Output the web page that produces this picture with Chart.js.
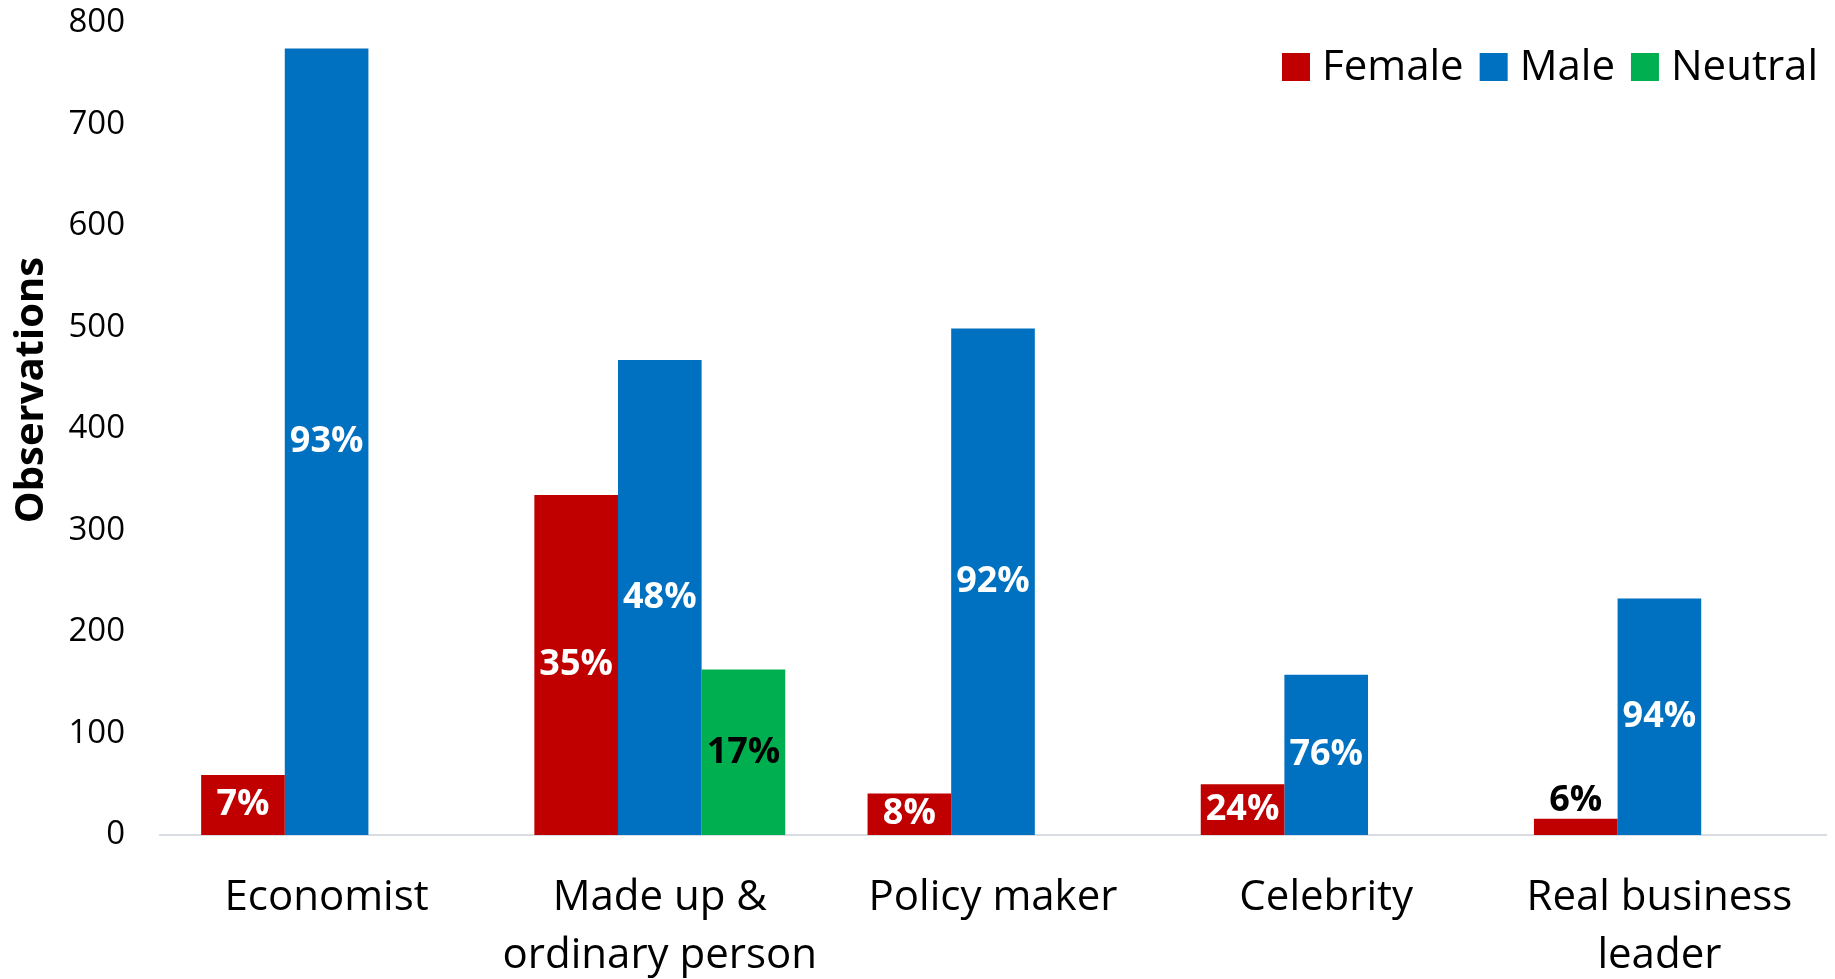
<!DOCTYPE html>
<html>
<head>
<meta charset="utf-8">
<script src="https://cdn.jsdelivr.net/npm/chart.js@4.4.1/dist/chart.umd.min.js"></script>
<style>
  html, body { margin: 0; padding: 0; background: #fff; }
  canvas { display: block; }
</style>
</head>
<body>
<canvas id="genderChart" width="1835" height="979"></canvas>
<script>
const categories = ['Economist', ['Made up &', 'ordinary person'], 'Policy maker', 'Celebrity', ['Real business', 'leader']]
const female = [59, 335, 41, 50, 16]
const male = [775, 468, 499, 158, 233]
const neutral = [null, 163, null, null, null]
const yMax = 800
const yStep = 100
const yTitle = 'Observations'

Chart.defaults.font.family = "'Open Sans', sans-serif"
Chart.defaults.color = '#000'

// share of each bar within its category, written on the bar
const percentLabels = {
  id: 'percentLabels',
  afterDatasetsDraw(chart) {
    const ctx = chart.ctx
    const datasets = chart.data.datasets
    ctx.save()
    ctx.font = "bold 36px 'Open Sans'"
    ctx.textAlign = 'center'
    ctx.textBaseline = 'middle'
    datasets.forEach((ds, di) => {
      const meta = chart.getDatasetMeta(di)
      meta.data.forEach((bar, i) => {
        const v = ds.data[i]
        if (v == null) return
        const total = datasets.reduce((s, d) => s + (d.data[i] || 0), 0)
        const text = Math.round(v / total * 100) + '%'
        const h = bar.base - bar.y
        if (h < 30) {
          ctx.fillStyle = '#000'
          ctx.fillText(text, bar.x, bar.y - 18)
        } else {
          ctx.fillStyle = ds.labelColor
          ctx.fillText(text, bar.x, (bar.y + bar.base) / 2)
        }
      })
    })
    ctx.restore()
  }
}

// legend inside the plot (top right) and the rotated y title
const insideLegend = {
  id: 'insideLegend',
  afterDraw(chart) {
    const ctx = chart.ctx
    const area = chart.chartArea
    const box = 28, gapText = 12, gapItem = 16
    ctx.save()
    ctx.font = "42px 'Open Sans'"
    ctx.textBaseline = 'middle'
    const items = chart.data.datasets.map(d => ({ label: d.label, color: d.backgroundColor, w: ctx.measureText(d.label).width }))
    const total = items.reduce((s, it) => s + box + gapText + it.w, 0) + gapItem * (items.length - 1)
    let x = area.right - 8 - total
    const y = area.top + 44
    items.forEach(it => {
      ctx.fillStyle = it.color
      ctx.fillRect(x, y - box / 2, box, box)
      x += box + gapText
      ctx.fillStyle = '#000'
      ctx.fillText(it.label, x, y + 1)
      x += it.w + gapItem
    })

    ctx.translate(32, 390)
    ctx.rotate(-Math.PI / 2)
    ctx.font = "bold 40px 'Open Sans'"
    ctx.textAlign = 'center'
    ctx.fillText(yTitle, 0, 0)
    ctx.restore()
  }
}

new Chart(document.getElementById('genderChart'), {
  type: 'bar',
  data: {
    labels: categories,
    datasets: [
      { label: 'Female', data: female, backgroundColor: '#C00000', labelColor: '#fff' },
      { label: 'Male', data: male, backgroundColor: '#0070C0', labelColor: '#fff' },
      { label: 'Neutral', data: neutral, backgroundColor: '#00B050', labelColor: '#000' }
    ]
  },
  options: {
    responsive: false,
    animation: false,
    devicePixelRatio: 1,
    categoryPercentage: 0.753,
    barPercentage: 1,
    layout: {
      padding: { top: 23, right: 9, bottom: 0, left: 0 }
    },
    plugins: {
      legend: { display: false },
      tooltip: { enabled: false }
    },
    scales: {
      x: {
        grid: { display: false, drawTicks: false },
        border: { color: '#d9dde3', width: 2 },
        ticks: {
          padding: 34,
          maxRotation: 0,
          autoSkip: false,
          font: { size: 42, lineHeight: 1.38 }
        },
        afterFit: scale => { scale.height = 144 }
      },
      y: {
        min: 0,
        max: yMax,
        grid: { display: false, drawTicks: false },
        border: { display: false },
        ticks: {
          stepSize: yStep,
          padding: 35,
          font: { size: 33 }
        },
        afterFit: scale => {
          scale.width = 160
          scale.paddingTop = 0
          scale.paddingBottom = 0
        }
      }
    }
  },
  plugins: [percentLabels, insideLegend]
})
</script>
</body>
</html>
